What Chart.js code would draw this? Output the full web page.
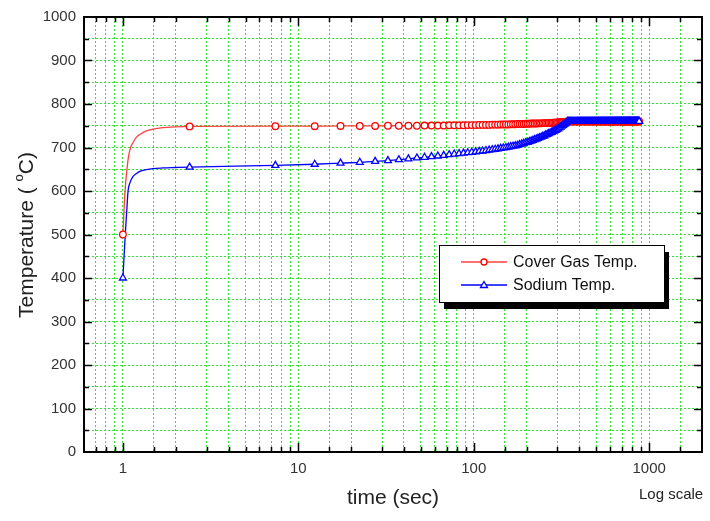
<!DOCTYPE html>
<html>
<head>
<meta charset="utf-8">
<script src="https://cdn.jsdelivr.net/npm/chart.js@4.4.1/dist/chart.umd.min.js"></script>
<style>
  html, body { margin: 0; padding: 0; background: #fff; }
</style>
</head>
<body>
<canvas id="tempChart" width="710" height="521"></canvas>
<script>
// marker times (sec), one marker every 5 s after the first
var markTime = [1, 2.4, 7.4, 12.4, 17.4, 22.4, 27.4, 32.4, 37.4, 42.4, 47.4,
  52.4, 57.4, 62.4, 67.4, 72.4, 77.4, 82.4, 87.4, 92.4, 97.4,
  102.4, 107.4, 112.4, 117.4, 122.4, 127.4, 132.4, 137.4, 142.4, 147.4,
  152.4, 157.4, 162.4, 167.4, 172.4, 177.4, 182.4, 187.4, 192.4, 197.4,
  202.4, 207.4, 212.4, 217.4, 222.4, 227.4, 232.4, 237.4, 242.4, 247.4,
  252.4, 257.4, 262.4, 267.4, 272.4, 277.4, 282.4, 287.4, 292.4, 297.4,
  302.4, 307.4, 312.4, 317.4, 322.4, 327.4, 332.4, 337.4, 342.4, 347.4,
  352.4, 357.4, 362.4, 367.4, 372.4, 377.4, 382.4, 387.4, 392.4, 397.4,
  402.4, 407.4, 412.4, 417.4, 422.4, 427.4, 432.4, 437.4, 442.4, 447.4,
  452.4, 457.4, 462.4, 467.4, 472.4, 477.4, 482.4, 487.4, 492.4, 497.4,
  502.4, 507.4, 512.4, 517.4, 522.4, 527.4, 532.4, 537.4, 542.4, 547.4,
  552.4, 557.4, 562.4, 567.4, 572.4, 577.4, 582.4, 587.4, 592.4, 597.4,
  602.4, 607.4, 612.4, 617.4, 622.4, 627.4, 632.4, 637.4, 642.4, 647.4,
  652.4, 657.4, 662.4, 667.4, 672.4, 677.4, 682.4, 687.4, 692.4, 697.4,
  702.4, 707.4, 712.4, 717.4, 722.4, 727.4, 732.4, 737.4, 742.4, 747.4,
  752.4, 757.4, 762.4, 767.4, 772.4, 777.4, 782.4, 787.4, 792.4, 797.4,
  802.4, 807.4, 812.4, 817.4, 822.4, 827.4, 832.4, 837.4, 842.4, 847.4,
  852.4, 857.4, 862.4, 867.4, 872.4, 877.4];

var gasTemp = [500, 748.5, 749, 749, 749.5, 749.5, 749.5, 750, 750, 750, 750,
  750.5, 750.5, 750.5, 750.5, 751, 751, 751, 751, 751.5, 751.5,
  751.5, 752, 752, 752, 752, 752.5, 752.5, 752.5, 753, 753,
  753, 753, 753.5, 753.5, 753.5, 754, 754, 754, 754, 754.5,
  754.5, 754.5, 755, 755, 755, 755, 755.5, 755.5, 755.5, 756,
  756, 756, 756, 756.5, 756.5, 756.5, 757, 757, 757, 757.5,
  757.5, 758, 758, 758.5, 758.5, 759, 759, 759.5, 760, 760,
  760, 760, 760, 760, 760, 760, 760, 760, 760, 760,
  760, 760, 760, 760, 760, 760, 760, 760, 760, 760,
  760, 760, 760, 760, 760, 760, 760, 760, 760, 760,
  760, 760, 760, 760, 760, 760, 760, 760, 760, 760,
  760, 760, 760, 760, 760, 760, 760, 760, 760, 760,
  760, 760, 760, 760, 760, 760, 760, 760, 760, 760,
  760, 760, 760, 760, 760, 760, 760, 760, 760, 760,
  760, 760, 760, 760, 760, 760, 760, 760, 760, 760,
  760, 760, 760, 760, 760, 760, 760, 760, 760, 760,
  760, 760, 760, 760, 760, 760, 760, 760, 760, 760,
  760, 760, 760, 760, 760, 760];

var naTemp = [400, 655, 659, 661.5, 664, 666, 668, 670, 672, 674, 676,
  677.5, 679, 680.5, 682, 683.5, 685, 686, 687, 688, 689,
  690, 691, 692, 693, 694, 695, 696, 697, 698, 699,
  700, 701, 702, 703, 704, 705, 706.5, 708, 709.5, 711,
  712, 713.5, 715, 716.5, 718, 719.5, 721, 722.5, 724, 725.5,
  727, 729, 730.5, 732, 733.5, 735, 736.5, 738, 739.5, 741,
  743, 745, 747, 749, 751, 753, 755, 757.5, 760, 760,
  760, 760, 760, 760, 760, 760, 760, 760, 760, 760,
  760, 760, 760, 760, 760, 760, 760, 760, 760, 760,
  760, 760, 760, 760, 760, 760, 760, 760, 760, 760,
  760, 760, 760, 760, 760, 760, 760, 760, 760, 760,
  760, 760, 760, 760, 760, 760, 760, 760, 760, 760,
  760, 760, 760, 760, 760, 760, 760, 760, 760, 760,
  760, 760, 760, 760, 760, 760, 760, 760, 760, 760,
  760, 760, 760, 760, 760, 760, 760, 760, 760, 760,
  760, 760, 760, 760, 760, 760, 760, 760, 760, 760,
  760, 760, 760, 760, 760, 760, 760, 760, 760, 760,
  760, 760, 760, 760, 760, 760];

// the fast start-up transient (line only, no markers)
var rampTime = [1, 1.017, 1.035, 1.05, 1.07, 1.095, 1.14, 1.195, 1.25, 1.36, 1.48, 1.69, 2.0];
var rampGas  = [500, 565, 615, 642, 672, 694, 711, 724, 730, 738, 742, 745.5, 747.5];
var rampNa   = [400, 455, 511, 550, 600, 618, 633, 640, 645, 649, 651.5, 653, 654];

var xLabels = [1, 10, 100, 1000];

function pts(xs, ys) {
  return xs.map(function (x, i) { return { x: x, y: ys[i] }; });
}
function curve(ys, rys) {
  var last = rampTime[rampTime.length - 1];
  return pts(rampTime, rys).concat(pts(markTime, ys).filter(function (p) { return p.x > last; }));
}

var FONT = "'Liberation Sans', Arial, sans-serif";

// inward tick marks, frame, legend box and the extra texts
var framePlugin = {
  id: 'frame',
  afterDatasetsDraw: function (chart) {
    var ctx = chart.ctx, a = chart.chartArea;
    var xs = chart.scales.x, ys = chart.scales.y;
    ctx.save();
    ctx.strokeStyle = '#000';
    ctx.lineWidth = 1.5;
    ctx.beginPath();
    xs.ticks.forEach(function (t) {
      var px = Math.round(xs.getPixelForValue(t.value)) + 0.5;
      if (px <= a.left + 1 || px >= a.right - 1) return;
      var lg = Math.log10(t.value);
      var len = Math.abs(lg - Math.round(lg)) < 1e-6 ? 9 : 5;
      ctx.moveTo(px, a.bottom); ctx.lineTo(px, a.bottom - len);
      ctx.moveTo(px, a.top); ctx.lineTo(px, a.top + len);
    });
    ys.ticks.forEach(function (t) {
      var py = Math.round(ys.getPixelForValue(t.value)) + 0.5;
      if (py <= a.top + 1 || py >= a.bottom - 1) return;
      var len = t.value % 100 === 0 ? 8 : 5;
      ctx.moveTo(a.left, py); ctx.lineTo(a.left + len, py);
      ctx.moveTo(a.right, py); ctx.lineTo(a.right - len, py);
    });
    ctx.stroke();
    ctx.lineWidth = 2;
    ctx.strokeRect(a.left, a.top, a.right - a.left, a.bottom - a.top);
    ctx.restore();
  },
  afterDraw: function (chart) {
    var ctx = chart.ctx;
    ctx.save();
    // legend with drop shadow
    ctx.fillStyle = '#000';
    ctx.fillRect(444, 252, 225, 57);
    ctx.fillStyle = '#fff';
    ctx.fillRect(439, 245, 225, 57);
    ctx.strokeStyle = '#000';
    ctx.lineWidth = 1;
    ctx.strokeRect(439.5, 245.5, 225, 57);

    ctx.lineWidth = 1.3;
    ctx.strokeStyle = '#ff4040';
    ctx.beginPath(); ctx.moveTo(461, 262); ctx.lineTo(507, 262); ctx.stroke();
    ctx.fillStyle = '#fff';
    ctx.strokeStyle = '#ff0000';
    ctx.beginPath(); ctx.arc(484, 262, 3, 0, Math.PI * 2); ctx.fill(); ctx.stroke();

    ctx.strokeStyle = '#0000ff';
    ctx.beginPath(); ctx.moveTo(461, 285); ctx.lineTo(507, 285); ctx.stroke();
    ctx.beginPath();
    ctx.moveTo(484, 281.5); ctx.lineTo(487.5, 287.5); ctx.lineTo(480.5, 287.5); ctx.closePath();
    ctx.fill(); ctx.stroke();

    ctx.fillStyle = '#111';
    ctx.font = '16px ' + FONT;
    ctx.textBaseline = 'middle';
    ctx.textAlign = 'left';
    ctx.fillText('Cover Gas Temp.', 513, 263);
    ctx.fillText('Sodium Temp.', 513, 286);

    // y axis title with superscript o
    ctx.save();
    ctx.translate(27, 235);
    ctx.rotate(-Math.PI / 2);
    var big = '21px ' + FONT, small = '13px ' + FONT;
    ctx.font = big;
    var w1 = ctx.measureText('Temperature ( ').width;
    var w3 = ctx.measureText('C)').width;
    ctx.font = small;
    var w2 = ctx.measureText('o').width;
    var x0 = -(w1 + w2 + w3) / 2;
    ctx.fillStyle = '#222';
    ctx.font = big;
    ctx.fillText('Temperature ( ', x0, 0);
    ctx.font = small;
    ctx.fillText('o', x0 + w1, -8);
    ctx.font = big;
    ctx.fillText('C)', x0 + w1 + w2, 0);
    ctx.restore();

    ctx.fillStyle = '#222';
    ctx.font = '15px ' + FONT;
    ctx.textBaseline = 'middle';
    ctx.fillText('Log scale', 639, 495);
    ctx.restore();
  }
};

var ctx = document.getElementById('tempChart');
var tempChart = new Chart(ctx, {
  type: 'scatter',
  data: {
    datasets: [{
      label: 'Sodium Temp. markers',
      data: pts(markTime, naTemp),
      showLine: false,
      pointStyle: 'triangle',
      pointRadius: 4,
      pointBorderWidth: 1.3,
      pointBorderColor: '#0000ff',
      pointBackgroundColor: '#fff'
    }, {
      label: 'Cover Gas Temp. markers',
      data: pts(markTime, gasTemp),
      showLine: false,
      pointStyle: 'circle',
      pointRadius: 3.3,
      pointBorderWidth: 1.3,
      pointBorderColor: '#ff0000',
      pointBackgroundColor: '#fff'
    }, {
      label: 'Sodium Temp.',
      data: curve(naTemp, rampNa),
      showLine: true,
      pointRadius: 0,
      borderColor: '#0000ff',
      borderWidth: 1.3,
      cubicInterpolationMode: 'monotone'
    }, {
      label: 'Cover Gas Temp.',
      data: curve(gasTemp, rampGas),
      showLine: true,
      pointRadius: 0,
      borderColor: '#ff4040',
      borderWidth: 1.3,
      cubicInterpolationMode: 'monotone'
    }]
  },
  options: {
    responsive: false,
    animation: false,
    devicePixelRatio: 1,
    layout: { padding: { top: 16, right: 5, left: 0, bottom: 0 } },
    plugins: { legend: { display: false }, tooltip: { enabled: false } },
    scales: {
      x: {
        type: 'logarithmic',
        min: 0.6,
        max: 2000,
        afterFit: function (s) { s.height = 69; },
        grid: { color: '#2ee82e', lineWidth: 1, drawTicks: false },
        border: { display: false, dash: [2, 2] },
        ticks: {
          autoSkip: false,
          maxRotation: 0,
          padding: 8,
          color: '#333',
          font: { family: FONT, size: 15 },
          callback: function (v) { return xLabels.indexOf(v) >= 0 ? String(v) : ''; }
        },
        title: {
          display: true,
          text: 'time (sec)',
          color: '#222',
          font: { family: FONT, size: 21 },
          padding: { top: 0, bottom: 10 }
        }
      },
      y: {
        min: 0,
        max: 1000,
        afterFit: function (s) { s.width = 84; },
        grid: { color: '#2ee82e', lineWidth: 1, drawTicks: false },
        border: { display: false, dash: [2, 2] },
        ticks: {
          stepSize: 50,
          autoSkip: false,
          padding: 8,
          color: '#333',
          font: { family: FONT, size: 15 },
          callback: function (v) { return v % 100 === 0 ? String(v) : ''; }
        }
      }
    }
  },
  plugins: [framePlugin]
});
</script>
</body>
</html>
